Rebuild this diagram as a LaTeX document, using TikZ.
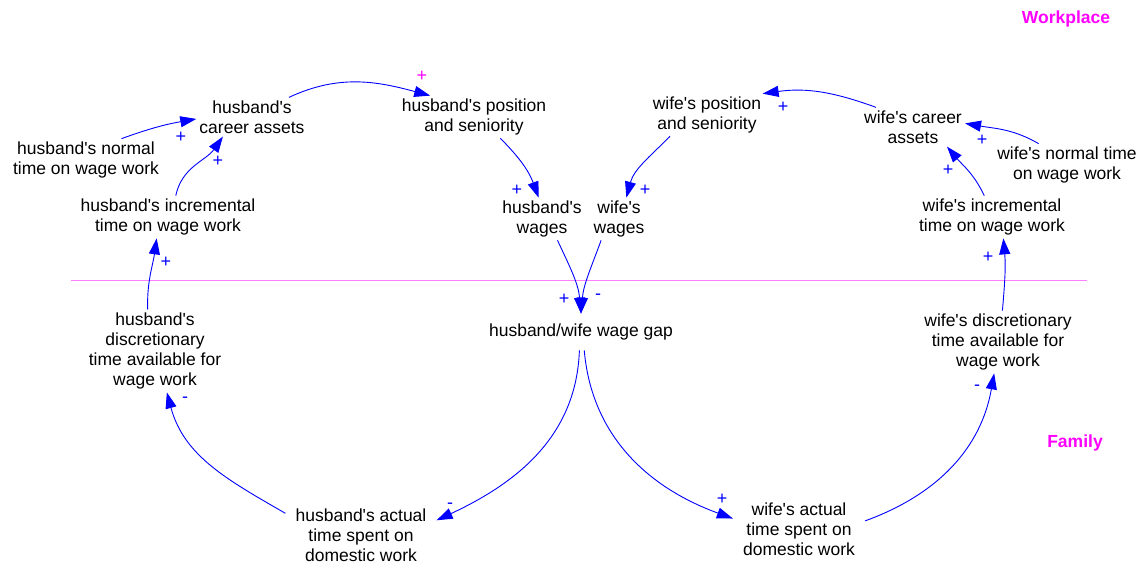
\documentclass[tikz,border=0pt]{standalone}
\usepackage{fontspec}
\setmainfont{Liberation Sans}[Ligatures=TeXOff]
\usetikzlibrary{arrows.meta}
\definecolor{vmag}{RGB}{255,0,255}

\begin{document}
\begin{tikzpicture}[x=1pt, y=1pt, >={Triangle[length=16pt, width=11pt]},
  var/.style={align=center, inner sep=3pt, font=\fontsize{17.5}{20}\selectfont},
  home/.style={var, inner xsep=10pt},
  link/.style={->, blue, line width=0.9pt},
  pol/.style={blue, inner sep=0pt, font=\fontsize{18}{18}\selectfont},
  sector/.style={vmag, font=\bfseries\fontsize{17.5}{20}\selectfont}]

  \useasboundingbox (0,0) rectangle (1141,-564);

  % === Sectors ===
  \node[sector] (work) at (1066,-19) {Workplace};
  \node[sector] (fam) at (1075,-443) {Family};
  \draw[vmag!50, line width=0.8pt] (71,-280) -- (1087,-280);

  % === Workplace variables ===
  \node[var] (hnormal) at (86,-160) {husband's normal\\time on wage work};
  \node[var] (hcareer) at (252,-117) {husband's\\career assets};
  \node[var] (hincr) at (168,-217) {husband's incremental\\time on wage work};
  \node[var] (hpos) at (474,-117) {husband's position\\and seniority};
  \node[var] (hwages) at (542,-219) {husband's\\wages};
  \node[var] (wwages) at (619,-219) {wife's\\wages};
  \node[var] (wpos) at (707,-115) {wife's position\\and seniority};
  \node[var] (wcareer) at (913,-127) {wife's career\\assets};
  \node[var] (wnormal) at (1067,-165) {wife's normal time\\on wage work};
  \node[var] (wincr) at (992,-217) {wife's incremental\\time on wage work};

  % === Family variables ===
  \node[var, inner ysep=10pt] (gap) at (581,-332) {husband/wife wage gap};
  \node[var] (hdisc) at (155,-351) {husband's\\discretionary\\time available for\\wage work};
  \node[var] (wdisc) at (998,-342) {wife's discretionary\\time available for\\wage work};
  \node[home] (hact) at (361,-535) {husband's actual\\time spent on\\domestic work};
  \node[home] (wact) at (799,-529) {wife's actual\\time spent on\\domestic work};

  % Husband's side
  \draw[link] (hnormal.31) to[out=20, in=190] (hcareer.182);
  \draw[link] (hincr.70) to[out=78, in=235] (hcareer.214);
  \draw[link] (hdisc.100) to[out=92, in=262] (hincr.242);
  \draw[link] (hcareer.28) to[out=25, in=165] (hpos.154);
  \draw[link] (hpos.-39) to[out=-45, in=110] (hwages.99);

  % Wife's side
  \draw[link] (wpos.210) to[out=225, in=75] (wwages.71);
  \draw[link] (wcareer.152) to[out=160, in=8] (wpos.21);
  \draw[link] (wnormal.143) to[out=150, in=-10] (wcareer.4);
  \draw[link] (wincr.110) to[out=115, in=-50] (wcareer.-30);
  \draw[link] (wdisc.82) to[out=85, in=-85] (wincr.-62);

  % Wage gap loop
  \draw[link] (hwages.-54) to[out=-65, in=95] (gap.90);
  \draw[link] (wwages.230) to[out=250, in=85] (gap.90);
  \draw[link] (gap.265) to[out=-92, in=25] (hact.11);
  \draw[link] (gap.-80) to[out=-85, in=160] (wact.171);
  \draw[link] (hact.164) to[out=150, in=-75] (hdisc.-74);
  \draw[link] (wact.7) to[out=20, in=-100] (wdisc.-97);

  % Polarities
  \node[pol] (p1) at (181,-137) {+};
  \node[pol] (p2) at (218,-161) {+};
  \node[pol] (p3) at (166,-262) {+};
  \node[pol, vmag] (p4) at (422,-76) {+};
  \node[pol] (p5) at (517,-190) {+};
  \node[pol] (p6) at (645,-190) {+};
  \node[pol] (p7) at (783,-107) {+};
  \node[pol] (p8) at (982,-140) {+};
  \node[pol] (p9) at (948,-170) {+};
  \node[pol] (p10) at (988,-257) {+};
  \node[pol] (p11) at (564,-299) {+};
  \node[pol] (p12) at (598,-297) {-};
  \node[pol] (p13) at (450,-506) {-};
  \node[pol] (p14) at (722,-499) {+};
  \node[pol] (p15) at (185,-400) {-};
  \node[pol] (p16) at (977,-388) {-};

\end{tikzpicture}
\end{document}
